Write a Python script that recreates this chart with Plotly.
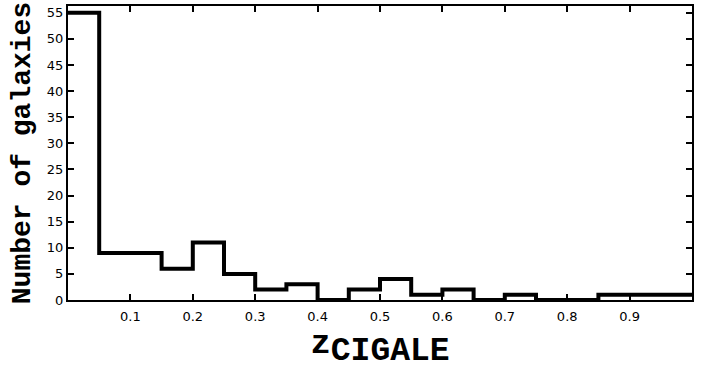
import plotly.graph_objects as go

bin_edges = [0.00, 0.05, 0.10, 0.15, 0.20, 0.25, 0.30, 0.35, 0.40, 0.45, 0.50,
             0.55, 0.60, 0.65, 0.70, 0.75, 0.80, 0.85, 0.90, 0.95, 1.00]
counts = [55, 9, 9, 6, 11, 5, 2, 3, 0, 2, 4, 1, 2, 0, 1, 0, 0, 1, 1, 1]
x_ticks = [0.1, 0.2, 0.3, 0.4, 0.5, 0.6, 0.7, 0.8, 0.9]
y_ticks = [0, 5, 10, 15, 20, 25, 30, 35, 40, 45, 50, 55]

step_y = counts + [counts[-1]]

fig = go.Figure()
fig.add_trace(go.Scatter(
    x=bin_edges, y=step_y, mode="lines", line_shape="hv",
    line=dict(color="black", width=4), showlegend=False, hoverinfo="skip",
))

tick_font = dict(family="DejaVu Sans", size=13, color="black")
fig.update_layout(
    width=712, height=370,
    margin=dict(l=68, r=20, t=4, b=70),
    paper_bgcolor="white", plot_bgcolor="white",
    showlegend=False,
    xaxis=dict(
        range=[0, 1.0], tickvals=x_ticks, ticktext=[str(v) for v in x_ticks],
        ticks="inside", ticklen=6, tickwidth=1.5, tickcolor="black",
        showline=True, linecolor="black", linewidth=2, mirror="ticks",
        showgrid=False, zeroline=False, tickfont=tick_font,
        ticklabelstandoff=3,
        title=dict(
            text="z<sub><span style='font-size:33px'>CIGALE</span></sub>",
            font=dict(family="Liberation Mono", size=34, color="black", weight="bold"),
            standoff=9,
        ),
    ),
    yaxis=dict(
        range=[0, 56.3], tickvals=y_ticks, ticktext=[str(v) for v in y_ticks],
        ticks="inside", ticklen=6, tickwidth=1.5, tickcolor="black",
        showline=True, linecolor="black", linewidth=2, mirror="ticks",
        showgrid=False, zeroline=False, tickfont=tick_font,
        title=dict(
            text="Number of galaxies",
            font=dict(family="Liberation Mono", size=28, color="black", weight="bold"),
            standoff=8,
        ),
    ),
)

fig.write_html("out.html")
